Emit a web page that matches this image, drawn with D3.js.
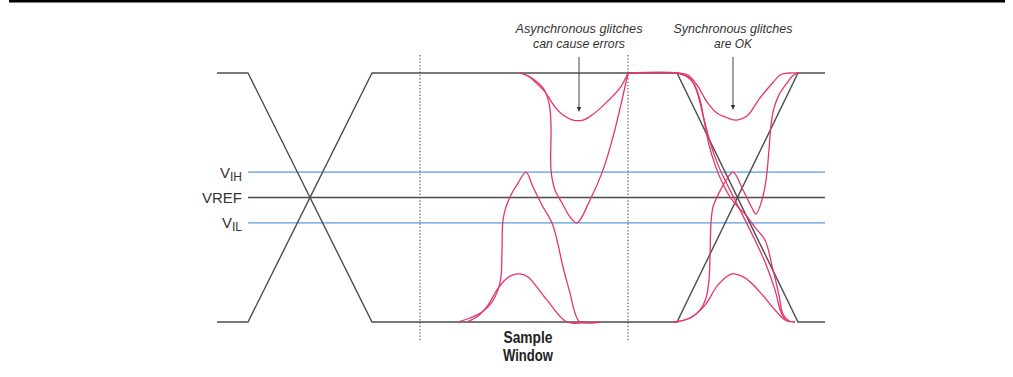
<!DOCTYPE html>
<html><head><meta charset="utf-8">
<script src="https://cdn.jsdelivr.net/npm/d3@7"></script>
<style>
html,body{margin:0;padding:0;background:#fff;}
svg{display:block;}
</style></head>
<body>
<svg id="chart" width="1013" height="377"></svg>
<script>
// ---- data (time in ps, voltage normalised 0..1) ----
const timeDomain = [0, 608];
const voltDomain = [0, 1];
const thresholds = [
  {name: "V", sub: "IH", v: 0.602, color: "#5b9bd5"},
  {name: "VREF", sub: "", v: 0.5, color: "#4a4a4a"},
  {name: "V", sub: "IL", v: 0.398, color: "#5b9bd5"}
];
const thresholdStart = 31;
const sampleWindow = [203, 411];
// ideal (gray) signals
const signalHighLow = [[0,1],[31,1],[155,0],[460,0],[581,1],[608,1]];
const signalLowHigh = [[0,0],[31,0],[155,1],[460,1],[581,0],[608,0]];
// asynchronous glitches (pink)
const asyncDipA = [[303,1],[311,0.988],[316,0.972],[328,0.924],[338,0.863],[346,0.831],[356,0.811],[366,0.811],[375,0.831],[390,0.884],[403,0.940],[411,1]];
const asyncDipB = [[303,1],[313,0.984],[326,0.940],[332,0.880],[334,0.791],[334,0.610],[338,0.530],[345,0.478],[353,0.422],[360,0.398],[373,0.490],[386,0.610],[396,0.743],[405,0.892],[411,1]];
const asyncBumpC = [[241,0],[253,0.016],[265,0.040],[275,0.080],[281,0.129],[284,0.181],[285,0.289],[286,0.410],[289,0.462],[295,0.518],[301,0.558],[309,0.602],[316,0.542],[326,0.462],[335,0.398],[340,0.329],[346,0.221],[353,0.116],[358,0.036],[363,0],[383,0]];
const asyncBumpD = [[250,0],[261,0.024],[271,0.068],[280,0.129],[288,0.169],[296,0.189],[303,0.193],[311,0.181],[330,0.088],[350,0],[368,0]];
// synchronous glitches (pink)
const syncDipE = [[411,1],[460,1],[471,0.992],[480,0.952],[490,0.884],[500,0.839],[511,0.819],[520,0.811],[530,0.827],[543,0.900],[556,0.962],[564,0.994],[572,1],[581,1]];
const syncRiseR = [[460,0],[473,0.016],[483,0.048],[489,0.096],[492,0.169],[493,0.261],[494,0.398],[496,0.462],[501,0.510],[508,0.562],[516,0.602],[526,0.530],[535,0.458],[539,0.434],[545,0.490],[549,0.570],[552,0.691],[554,0.791],[557,0.859],[562,0.912],[570,0.960],[576,0.990],[581,1]];
const syncFallF1 = [[411,1],[460,1],[469,0.988],[477,0.956],[483,0.892],[487,0.811],[492,0.711],[498,0.631],[505,0.562],[513,0.502],[521,0.462],[528,0.434],[538,0.380],[548,0.329],[556,0.209],[562,0.108],[566,0.032],[573,0]];
const syncFallF2 = [[460,1],[473,0.980],[480,0.924],[486,0.831],[493,0.723],[501,0.631],[508,0.570],[518,0.490],[528,0.410],[538,0.329],[548,0.241],[558,0.129],[564,0.040],[569,0.008],[578,0]];
const syncBumpH = [[456,0],[473,0.016],[488,0.068],[501,0.149],[515,0.193],[528,0.177],[543,0.120],[558,0.048],[568,0.008],[578,0]];
// annotations (text widths in px as measured on the original)
const annotations = [
  {lines: ["Asynchronous glitches", "can cause errors"], widths: [127, 92], t: 362, tipV: 0.843},
  {lines: ["Synchronous glitches", "are OK"], widths: [119, 38], t: 516, tipV: 0.851}
];
const windowLabel = ["Sample", "Window"];
const windowLabelWidths = [49, 50];

// ---- drawing ----
const svg = d3.select("#chart");
const x = d3.scaleLinear().domain(timeDomain).range([217, 825]);
const y = d3.scaleLinear().domain(voltDomain).range([322, 73]);

const gray = "#4d4d4d", pink = "#e4356c";

// top bar
svg.append("rect").attr("x", 9).attr("y", 0).attr("width", 996).attr("height", 2.5).attr("fill", "#000");

// thresholds
thresholds.forEach(th => {
  svg.append("line")
    .attr("x1", x(thresholdStart)).attr("x2", x(timeDomain[1]))
    .attr("y1", y(th.v)).attr("y2", y(th.v))
    .attr("stroke", th.color).attr("stroke-width", 1.3);
  const tx = svg.append("text")
    .attr("x", x(thresholdStart) - 6).attr("y", y(th.v) + 5.5)
    .attr("text-anchor", "end")
    .attr("font-family", "Liberation Sans, Arial, sans-serif")
    .attr("font-size", 15).attr("fill", "#333");
  tx.append("tspan").text(th.name);
  if (th.sub) tx.append("tspan").attr("font-size", 12).attr("dy", 3).text(th.sub);
});

// dotted sample window
sampleWindow.forEach(t => {
  svg.append("line")
    .attr("x1", x(t)).attr("x2", x(t))
    .attr("y1", 55).attr("y2", 341)
    .attr("stroke", "#555").attr("stroke-width", 1.1)
    .attr("stroke-dasharray", "1.5,1.8");
});

const lineGen = d3.line().x(d => x(d[0])).y(d => y(d[1]));
const curveGen = d3.line().x(d => x(d[0])).y(d => y(d[1])).curve(d3.curveCatmullRom.alpha(0.5));

// gray ideal signals
[signalHighLow, signalLowHigh].forEach(s => {
  svg.append("path").attr("d", lineGen(s))
    .attr("fill", "none").attr("stroke", gray).attr("stroke-width", 1.4);
});

// pink glitches
[asyncDipA, asyncDipB, asyncBumpC, asyncBumpD, syncDipE, syncRiseR, syncFallF1, syncFallF2, syncBumpH].forEach(s => {
  svg.append("path").attr("d", curveGen(s))
    .attr("fill", "none").attr("stroke", pink).attr("stroke-width", 1.3);
});

const narrow = "Liberation Sans Narrow, Liberation Sans, Arial, sans-serif";
// annotations
annotations.forEach(a => {
  const ax = x(a.t);
  const tip = y(a.tipV);
  a.lines.forEach((ln, i) => {
    svg.append("text")
      .attr("x", ax).attr("y", 32.5 + i * 15)
      .attr("text-anchor", "middle")
      .attr("font-family", narrow)
      .attr("font-style", "italic")
      .attr("font-size", 13.5).attr("fill", "#333")
      .attr("textLength", a.widths[i]).attr("lengthAdjust", "spacingAndGlyphs")
      .text(ln);
  });
  svg.append("line").attr("x1", ax).attr("x2", ax).attr("y1", 57).attr("y2", tip - 4)
    .attr("stroke", "#444").attr("stroke-width", 1);
  svg.append("path")
    .attr("d", `M${ax - 2.2},${tip - 5}L${ax + 2.2},${tip - 5}L${ax},${tip}Z`)
    .attr("fill", "#333");
});

// sample window label
const wx = (x(sampleWindow[0]) + x(sampleWindow[1])) / 2 + 4;
windowLabel.forEach((ln, i) => {
  svg.append("text")
    .attr("x", wx).attr("y", 342.5 + i * 18.5)
    .attr("text-anchor", "middle")
    .attr("font-family", narrow)
    .attr("font-weight", "bold")
    .attr("font-size", 16).attr("fill", "#222")
    .attr("textLength", windowLabelWidths[i]).attr("lengthAdjust", "spacingAndGlyphs")
    .text(ln);
});
</script>
</body></html>
